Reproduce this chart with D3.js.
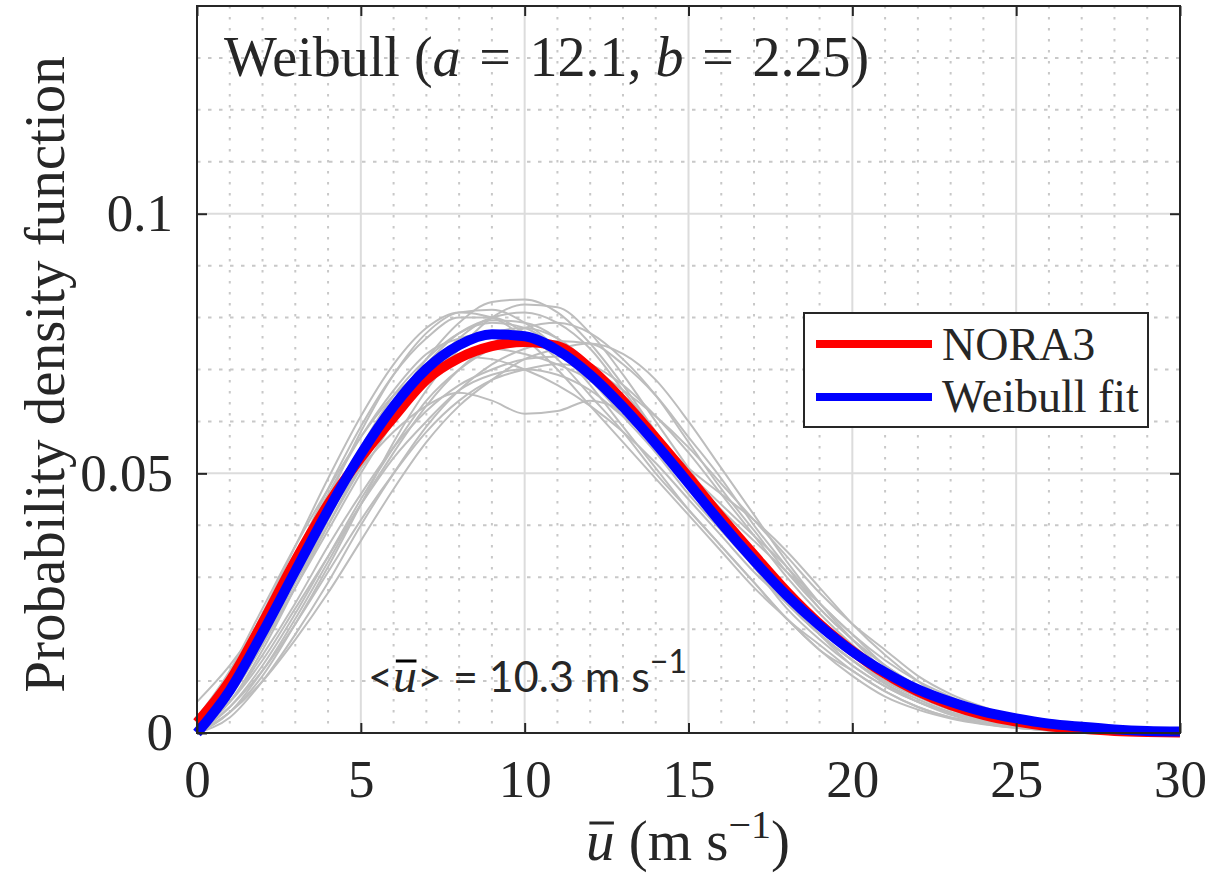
<!DOCTYPE html>
<html lang="en">
  <head>
    <meta charset="UTF-8" />
    <title>Weibull fit of wind speed PDF</title>
    <script src="https://d3js.org/d3.v7.min.js"></script>
    <style>
      body {
        margin: 0;
        background: #fff;
      }
      svg text {
        fill: #262626;
      }
      .serif {
        font-family: "Liberation Serif", "DejaVu Serif", serif;
      }
    </style>
  </head>
  <body>
    <div id="chart"></div>
    <script>
      // wind speed (m/s) where every curve is sampled
      var speeds = d3.range(0, 31);

      // NORA3 distribution
      var nora3 = [
        0.002, 0.01, 0.0212, 0.0332, 0.044, 0.053, 0.0608, 0.068, 0.0722,
        0.0745, 0.0753, 0.0745, 0.0702, 0.064, 0.0568, 0.0493, 0.0416, 0.0343,
        0.0272, 0.021, 0.0158, 0.0114, 0.008, 0.0054, 0.0035, 0.0022, 0.0013,
        0.0008, 0.0004, 0.0002, 0.0001,
      ];

      // Weibull fit (a = 12.1, b = 2.25)
      var weibullFit = [
        0, 0.0082, 0.0193, 0.0312, 0.0429, 0.0537, 0.0629, 0.0701, 0.0747,
        0.0768, 0.0764, 0.0737, 0.069, 0.0628, 0.0557, 0.0481, 0.0404, 0.0332,
        0.0265, 0.0207, 0.0157, 0.0117, 0.0084, 0.006, 0.0041, 0.0028, 0.0018,
        0.0012, 0.0007, 0.0004, 0.0003,
      ];

      // single-year curves (grey)
      var years = [
        [0, 0.006, 0.016, 0.028, 0.04, 0.052, 0.063, 0.072, 0.079, 0.083, 0.0835, 0.081, 0.075, 0.067, 0.058, 0.049, 0.04, 0.032, 0.024, 0.018, 0.013, 0.009, 0.006, 0.004, 0.0025, 0.0015, 0.0009, 0.0005, 0.0003, 0.0001, 0],
        [0.002, 0.011, 0.023, 0.036, 0.049, 0.061, 0.071, 0.078, 0.081, 0.08, 0.076, 0.07, 0.063, 0.056, 0.049, 0.042, 0.035, 0.028, 0.022, 0.016, 0.012, 0.008, 0.005, 0.003, 0.002, 0.001, 0.0006, 0.0003, 0.0001, 0, 0],
        [0.003, 0.011, 0.021, 0.032, 0.042, 0.051, 0.058, 0.063, 0.0655, 0.064, 0.0615, 0.062, 0.064, 0.062, 0.057, 0.05, 0.043, 0.037, 0.031, 0.025, 0.019, 0.014, 0.01, 0.007, 0.004, 0.0025, 0.0015, 0.0008, 0.0004, 0.0002, 0.0001],
        [0, 0.004, 0.012, 0.022, 0.033, 0.044, 0.054, 0.063, 0.07, 0.075, 0.078, 0.079, 0.077, 0.072, 0.065, 0.056, 0.047, 0.039, 0.031, 0.024, 0.018, 0.013, 0.009, 0.006, 0.004, 0.0025, 0.0015, 0.0008, 0.0004, 0.0002, 0.0001],
        [0.001, 0.007, 0.017, 0.028, 0.039, 0.05, 0.06, 0.069, 0.076, 0.08, 0.081, 0.079, 0.074, 0.066, 0.058, 0.05, 0.042, 0.034, 0.027, 0.02, 0.015, 0.01, 0.007, 0.0045, 0.003, 0.0018, 0.001, 0.0005, 0.0003, 0.0001, 0],
        [0.006, 0.013, 0.022, 0.033, 0.044, 0.055, 0.065, 0.072, 0.077, 0.079, 0.078, 0.074, 0.068, 0.061, 0.054, 0.046, 0.039, 0.032, 0.025, 0.019, 0.014, 0.01, 0.007, 0.0045, 0.0028, 0.0017, 0.001, 0.0005, 0.0002, 0.0001, 0],
        [0.001, 0.006, 0.014, 0.024, 0.034, 0.044, 0.053, 0.06, 0.066, 0.069, 0.07, 0.069, 0.066, 0.061, 0.056, 0.05, 0.044, 0.038, 0.032, 0.025, 0.019, 0.013, 0.009, 0.006, 0.004, 0.0025, 0.0015, 0.0009, 0.0005, 0.0002, 0.0001],
        [0.003, 0.012, 0.024, 0.036, 0.047, 0.057, 0.065, 0.07, 0.0725, 0.072, 0.07, 0.067, 0.063, 0.058, 0.052, 0.045, 0.038, 0.031, 0.025, 0.019, 0.014, 0.01, 0.007, 0.0045, 0.003, 0.0018, 0.001, 0.0005, 0.0002, 0.0001, 0],
        [0, 0.005, 0.013, 0.023, 0.034, 0.045, 0.055, 0.064, 0.07, 0.074, 0.076, 0.075, 0.071, 0.064, 0.057, 0.051, 0.046, 0.041, 0.035, 0.028, 0.021, 0.015, 0.01, 0.006, 0.0035, 0.002, 0.0011, 0.0006, 0.0003, 0.0001, 0],
        [0, 0.004, 0.011, 0.021, 0.032, 0.044, 0.056, 0.066, 0.074, 0.08, 0.0825, 0.082, 0.077, 0.069, 0.06, 0.051, 0.042, 0.034, 0.026, 0.019, 0.013, 0.009, 0.006, 0.0035, 0.002, 0.0012, 0.0007, 0.0004, 0.0002, 0.0001, 0],
        [0, 0.004, 0.01, 0.018, 0.027, 0.037, 0.047, 0.056, 0.063, 0.068, 0.072, 0.074, 0.075, 0.073, 0.068, 0.06, 0.051, 0.042, 0.033, 0.025, 0.018, 0.012, 0.008, 0.005, 0.003, 0.0017, 0.001, 0.0005, 0.0002, 0.0001, 0],
        [0.002, 0.01, 0.02, 0.031, 0.042, 0.053, 0.062, 0.069, 0.073, 0.074, 0.073, 0.071, 0.068, 0.063, 0.057, 0.05, 0.042, 0.035, 0.028, 0.021, 0.016, 0.011, 0.008, 0.005, 0.003, 0.002, 0.0012, 0.0007, 0.0003, 0.0001, 0],
        [0.002, 0.01, 0.021, 0.034, 0.047, 0.059, 0.069, 0.076, 0.08, 0.08, 0.077, 0.072, 0.065, 0.058, 0.05, 0.043, 0.036, 0.029, 0.022, 0.016, 0.011, 0.007, 0.0045, 0.0028, 0.0017, 0.001, 0.0005, 0.0003, 0.0001, 0, 0],
        [0.001, 0.008, 0.018, 0.029, 0.04, 0.051, 0.061, 0.069, 0.074, 0.077, 0.078, 0.076, 0.071, 0.064, 0.057, 0.049, 0.041, 0.034, 0.027, 0.021, 0.015, 0.011, 0.0075, 0.005, 0.003, 0.0018, 0.001, 0.0005, 0.0002, 0.0001, 0],
        [0, 0.005, 0.012, 0.021, 0.031, 0.041, 0.05, 0.058, 0.064, 0.068, 0.07, 0.071, 0.07, 0.066, 0.061, 0.055, 0.048, 0.041, 0.034, 0.027, 0.021, 0.016, 0.011, 0.0075, 0.005, 0.003, 0.0018, 0.001, 0.0005, 0.0002, 0.0001],
        [0.003, 0.011, 0.022, 0.034, 0.046, 0.057, 0.066, 0.073, 0.076, 0.077, 0.076, 0.073, 0.068, 0.062, 0.055, 0.048, 0.04, 0.033, 0.026, 0.019, 0.014, 0.0095, 0.0065, 0.004, 0.0025, 0.0015, 0.0008, 0.0004, 0.0002, 0.0001, 0],
        [0.001, 0.006, 0.015, 0.025, 0.036, 0.046, 0.055, 0.062, 0.067, 0.07, 0.072, 0.0725, 0.071, 0.067, 0.061, 0.054, 0.046, 0.038, 0.03, 0.023, 0.017, 0.012, 0.008, 0.005, 0.003, 0.0018, 0.001, 0.0005, 0.0002, 0.0001, 0],
        [0.001, 0.007, 0.017, 0.029, 0.041, 0.053, 0.063, 0.071, 0.077, 0.0795, 0.079, 0.076, 0.07, 0.063, 0.056, 0.048, 0.04, 0.032, 0.025, 0.019, 0.014, 0.0095, 0.006, 0.0038, 0.0023, 0.0013, 0.0007, 0.0004, 0.0002, 0.0001, 0],
        [0, 0.003, 0.01, 0.019, 0.029, 0.04, 0.05, 0.059, 0.066, 0.071, 0.074, 0.0755, 0.075, 0.071, 0.065, 0.057, 0.049, 0.04, 0.032, 0.024, 0.018, 0.013, 0.009, 0.0055, 0.0033, 0.002, 0.0011, 0.0006, 0.0003, 0.0001, 0],
        [0.002, 0.009, 0.02, 0.032, 0.045, 0.058, 0.069, 0.077, 0.081, 0.0815, 0.079, 0.074, 0.067, 0.059, 0.051, 0.043, 0.036, 0.029, 0.022, 0.017, 0.012, 0.008, 0.005, 0.003, 0.0018, 0.001, 0.0005, 0.0003, 0.0001, 0, 0],
      ];

      var xTicks = [0, 5, 10, 15, 20, 25, 30];
      var yTicks = [0, 0.05, 0.1];
      var yTickLabels = ["0", "0.05", "0.1"];
      var legendNames = ["NORA3", "Weibull fit"];

      var margin = { top: 6, right: 31, bottom: 143, left: 197 },
        width = 1211 - margin.left - margin.right,
        height = 876 - margin.top - margin.bottom;

      var svg = d3
        .select("#chart")
        .append("svg")
        .attr("width", 1211)
        .attr("height", 876);

      var g = svg
        .append("g")
        .attr("transform", "translate(" + margin.left + "," + margin.top + ")");

      var x = d3.scaleLinear().domain([0, 30]).range([0, width]);
      var y = d3.scaleLinear().domain([0, 0.14]).range([height, 0]);

      // minor grid (dotted)
      var minorX = d3.range(1, 30).filter((v) => v % 5 !== 0);
      var minorY = d3.range(1, 14).filter((v) => v % 5 !== 0).map((v) => v / 100);
      g.append("g")
        .selectAll("line")
        .data(minorX)
        .enter()
        .append("line")
        .attr("x1", (d) => x(d))
        .attr("x2", (d) => x(d))
        .attr("y1", 0)
        .attr("y2", height)
        .attr("stroke", "#c8c8c8")
        .attr("stroke-width", 2)
        .attr("stroke-dasharray", "2.5,8.5");
      g.append("g")
        .selectAll("line")
        .data(minorY)
        .enter()
        .append("line")
        .attr("x1", 0)
        .attr("x2", width)
        .attr("y1", (d) => y(d))
        .attr("y2", (d) => y(d))
        .attr("stroke", "#c8c8c8")
        .attr("stroke-width", 2)
        .attr("stroke-dasharray", "3.5,7.5");

      // major grid
      g.append("g")
        .selectAll("line")
        .data(xTicks.slice(1, -1))
        .enter()
        .append("line")
        .attr("x1", (d) => x(d))
        .attr("x2", (d) => x(d))
        .attr("y1", 0)
        .attr("y2", height)
        .attr("stroke", "#dcdcdc")
        .attr("stroke-width", 2);
      g.append("g")
        .selectAll("line")
        .data(yTicks.slice(1))
        .enter()
        .append("line")
        .attr("x1", 0)
        .attr("x2", width)
        .attr("y1", (d) => y(d))
        .attr("y2", (d) => y(d))
        .attr("stroke", "#dcdcdc")
        .attr("stroke-width", 2);

      var line = d3
        .line()
        .x((d, i) => x(speeds[i]))
        .y((d) => y(d))
        .curve(d3.curveMonotoneX);

      // grey curves
      g.append("g")
        .selectAll("path")
        .data(years)
        .enter()
        .append("path")
        .attr("d", line)
        .attr("fill", "none")
        .attr("stroke", "#bdbdbd")
        .attr("stroke-width", 2);

      g.append("path")
        .datum(nora3)
        .attr("d", line)
        .attr("fill", "none")
        .attr("stroke", "#ff0000")
        .attr("stroke-width", 10);

      g.append("path")
        .datum(weibullFit)
        .attr("d", line)
        .attr("fill", "none")
        .attr("stroke", "#0000ff")
        .attr("stroke-width", 10);

      // axes: ticks point inwards, box all round
      g.append("g")
        .attr("transform", "translate(0," + height + ")")
        .call(
          d3.axisBottom(x).tickValues(xTicks).tickSizeInner(-10).tickSizeOuter(0).tickPadding(26)
        );
      g.append("g").call(
        d3
          .axisLeft(y)
          .tickValues(yTicks)
          .tickFormat((d, i) => yTickLabels[i])
          .tickSizeInner(-10)
          .tickSizeOuter(0)
          .tickPadding(24)
      );
      g.append("g").call(
        d3.axisTop(x).tickValues(xTicks).tickSizeInner(-10).tickSizeOuter(0).tickFormat("")
      );
      g.append("g")
        .attr("transform", "translate(" + width + ",0)")
        .call(
          d3.axisRight(y).tickValues(yTicks).tickSizeInner(-10).tickSizeOuter(0).tickFormat("")
        );
      g.selectAll(".domain").remove();
      g.selectAll(".tick line").attr("stroke", "#262626").attr("stroke-width", 2);
      g.selectAll(".tick text")
        .attr("class", "serif")
        .style("font-size", "53px")
        .attr("fill", "#262626");

      g.append("rect")
        .attr("width", width)
        .attr("height", height)
        .attr("fill", "none")
        .attr("stroke", "#262626")
        .attr("stroke-width", 2);

      // title inside the axes
      var title = g
        .append("text")
        .attr("class", "serif")
        .attr("x", 27)
        .attr("y", 70)
        .style("font-size", "56px");
      title.append("tspan").text("Weibull (");
      title.append("tspan").attr("font-style", "italic").text("a");
      title.append("tspan").text("\u2004=\u200412.1, ");
      title.append("tspan").attr("font-style", "italic").text("b");
      title.append("tspan").text("\u2004=\u20042.25)");

      // legend
      var legend = g.append("g").attr("transform", "translate(607,307)");
      legend
        .append("rect")
        .attr("width", 344)
        .attr("height", 114)
        .attr("fill", "#fff")
        .attr("stroke", "#262626")
        .attr("stroke-width", 2);
      var legendColors = ["#ff0000", "#0000ff"];
      legendNames.forEach((name, i) => {
        legend
          .append("line")
          .attr("x1", 12)
          .attr("x2", 128)
          .attr("y1", 31 + i * 53)
          .attr("y2", 31 + i * 53)
          .attr("stroke", legendColors[i])
          .attr("stroke-width", 8);
        legend
          .append("text")
          .attr("class", "serif")
          .attr("x", 138)
          .attr("y", 47 + i * 52)
          .style("font-size", "46px")
          .text(name);
      });

      // thin bar over a glyph (mean symbol)
      function overbar(parent, tspan, lift, color) {
        var b = tspan.node().getBBox();
        parent
          .append("line")
          .attr("x1", b.x + b.width * 0.12)
          .attr("x2", b.x + b.width * 0.98)
          .attr("y1", lift)
          .attr("y2", lift)
          .attr("stroke", color)
          .attr("stroke-width", 3);
      }

      // mean wind speed note
      var note = g
        .append("text")
        .attr("x", 171)
        .attr("y", 686)
        .style("font-family", "Lato, 'Open Sans', sans-serif")
        .style("font-size", "43px")
        .attr("fill", "#000");
      note.append("tspan").text("<");
      var noteU = note
        .append("tspan")
        .attr("font-style", "italic")
        .style("font-family", "'Liberation Serif', serif")
        .style("font-size", "48px")
        .text("u");
      note.append("tspan").text("> = 10.3 m s");
      note.append("tspan").attr("dy", -19).style("font-size", "32px").text("\u22121");
      overbar(g, noteU, 655, "#000");

      // axis labels
      var xLabel = svg
        .append("text")
        .attr("class", "serif")
        .attr("x", 688)
        .attr("y", 860)
        .attr("text-anchor", "middle")
        .style("font-size", "57px");
      var xU = xLabel.append("tspan").attr("font-style", "italic").text("u");
      xLabel.append("tspan").text("\u2005(m s");
      xLabel.append("tspan").attr("dy", -22).style("font-size", "40px").text("\u22121");
      xLabel.append("tspan").attr("dy", 22).text(")");
      overbar(svg, xU, 823, "#262626");

      svg
        .append("text")
        .attr("class", "serif")
        .attr("transform", "translate(64," + (margin.top + height / 2 + 5) + ") rotate(-90)")
        .attr("text-anchor", "middle")
        .style("font-size", "57px")
        .text("Probability density function");
    </script>
  </body>
</html>
